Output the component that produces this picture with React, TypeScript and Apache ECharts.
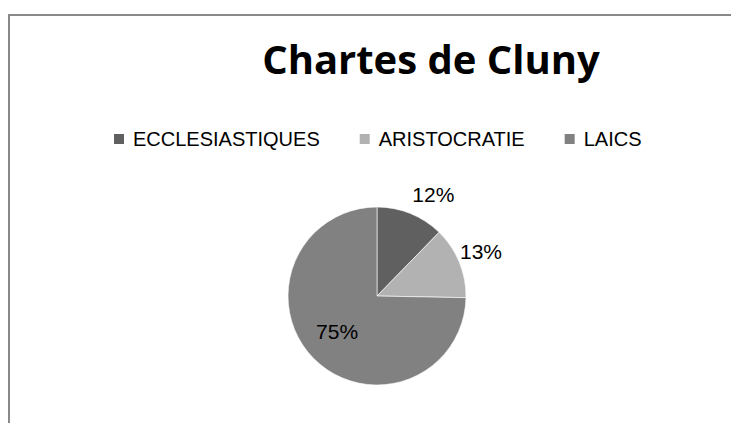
import React, { useEffect, useRef } from "react";
import * as echarts from "echarts";

const chartTitle = "Chartes de Cluny";
const categories = ["ECCLESIASTIQUES", "ARISTOCRATIE", "LAICS"];
const shares = [12.3, 13.0, 74.7];
const sliceColors = ["#606060", "#b2b2b2", "#818181"];
const labelPlacement = ["outside", "outside", "inside"];
const labelNudgeX = [-5, -16, -6];
const labelNudgeY = [-2, -4, 2];

export default function App() {
  const ref = useRef<HTMLDivElement>(null);
  useEffect(() => {
    document.body.style.margin = "0";
    const chart = echarts.init(ref.current!, null, { renderer: "svg" });
    const total = shares.reduce((a, b) => a + b, 0);
    chart.setOption({
      animation: false,
      backgroundColor: "#ffffff",
      title: {
        text: chartTitle,
        left: 431,
        textAlign: "center",
        top: 38,
        padding: 0,
        textStyle: {
          fontFamily: "Open Sans",
          fontWeight: "bold",
          fontSize: 40,
          color: "#000000",
        },
      },
      legend: {
        data: categories,
        left: 112,
        top: 129,
        padding: 0,
        orient: "horizontal",
        itemWidth: 12,
        itemHeight: 12,
        itemGap: 38,
        icon: "rect",
        selectedMode: false,
        textStyle: {
          fontFamily: "Liberation Sans",
          fontSize: 20,
          color: "#000000",
          padding: [0, 0, 0, 3],
        },
      },
      graphic: [
        {
          type: "rect",
          silent: true,
          shape: { x: 9, y: 15, width: 800, height: 500 },
          style: { fill: "none", stroke: "#898989", lineWidth: 2 },
        },
      ],
      series: [
        {
          type: "pie",
          center: [377, 296],
          radius: 89,
          startAngle: 90,
          clockwise: true,
          avoidLabelOverlap: false,
          itemStyle: { borderColor: "#ffffff", borderWidth: 0.6 },
          label: {
            show: true,
            fontFamily: "Liberation Sans",
            fontSize: 21,
            color: "#000000",
            distanceToLabelLine: 0,
            formatter: (p: any) => Math.round((p.value / total) * 100) + "%",
          },
          labelLine: { show: false, length: 18, length2: 0 },
          labelLayout: (p: any) => ({
            dx: labelNudgeX[p.dataIndex],
            dy: labelNudgeY[p.dataIndex],
          }),
          emphasis: { disabled: true },
          data: categories.map((name, i) => ({
            name,
            value: shares[i],
            itemStyle: { color: sliceColors[i] },
            label: { position: labelPlacement[i] },
          })),
        },
      ],
    });
    return () => chart.dispose();
  }, []);
  return <div ref={ref} style={{ width: 731, height: 423 }} />;
}
